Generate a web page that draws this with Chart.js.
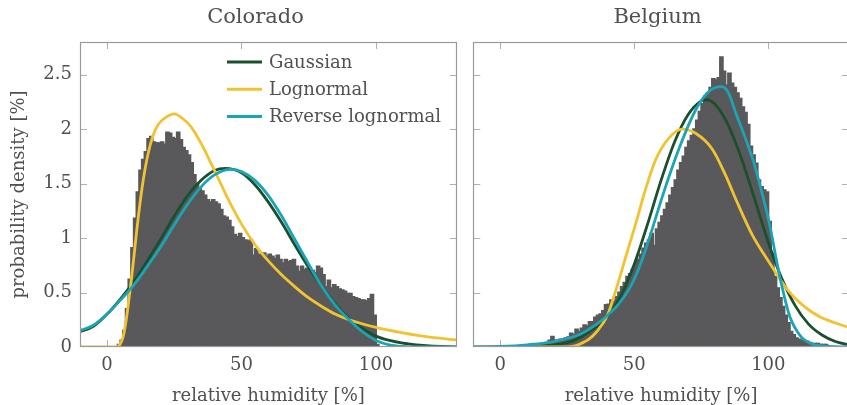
<!DOCTYPE html>
<html><head><meta charset="utf-8">
<script src="https://cdn.jsdelivr.net/npm/chart.js@4/dist/chart.umd.min.js"></script>
<style>
html,body{margin:0;padding:0;background:#fff;overflow:hidden;width:847px;height:405px;}
canvas{position:absolute;top:0;}
#c1{left:0}
#c2{left:466px}
</style></head><body>
<canvas id="c1" width="466" height="405"></canvas>
<canvas id="c2" width="390" height="405"></canvas>
<script>
// ---------- data ----------
const panelTitles = ['Colorado', 'Belgium'];
const seriesNames = ['Gaussian', 'Lognormal', 'Reverse lognormal'];
const xTickValues = [0, 50, 100];
const xTickLabels = ['0', '50', '100'];
const yTickValues = [0, 0.5, 1, 1.5, 2, 2.5];
const yTickLabels = ['0', '0.5', '1', '1.5', '2', '2.5'];
const binWidth = 1;

// Colorado histogram, bins of 1 % starting at 4 %
const coloradoBinStart = 4;
const coloradoHist = [0.02,0.06,0.15,0.35,0.62,0.91,1.18,1.42,1.62,1.72,
 1.79,1.91,1.93,1.88,1.87,1.87,1.88,1.86,1.97,1.96,
 1.92,1.91,1.97,1.90,1.83,1.80,1.76,1.69,1.58,1.50,
 1.46,1.43,1.39,1.35,1.33,1.35,1.33,1.31,1.26,1.20,
 1.19,1.16,1.10,1.03,1.01,1.04,1.00,0.98,0.97,0.98,
 0.84,0.90,0.85,0.84,0.86,0.83,0.85,0.83,0.81,0.84,
 0.80,0.77,0.80,0.78,0.79,0.80,0.74,0.69,0.74,0.71,
 0.72,0.71,0.70,0.68,0.74,0.72,0.66,0.55,0.61,0.54,
 0.57,0.55,0.53,0.52,0.51,0.49,0.49,0.46,0.45,0.44,
 0.43,0.43,0.42,0.44,0.48,0.29,0.02];

// Belgium histogram, bins of 1 % starting at 10 %
const belgiumBinStart = 10;
const belgiumHist = [0.01,0.01,0.01,0.015,0.02,
 0.02,0.03,0.04,0.06,0.095,0.06,0.06,0.07,0.07,0.08,
 0.09,0.125,0.11,0.16,0.14,0.17,0.20,0.19,0.23,0.23,
 0.27,0.29,0.30,0.33,0.385,0.39,0.43,0.42,0.46,0.50,
 0.55,0.59,0.645,0.67,0.71,0.76,0.80,0.85,0.905,0.95,
 0.98,1.04,0.93,1.08,1.14,1.20,1.26,1.32,1.39,1.46,
 1.53,1.62,1.69,1.75,1.83,1.89,1.94,2.00,2.08,2.16,
 2.23,2.30,2.33,2.38,2.46,2.45,2.47,2.66,2.53,2.40,
 2.51,2.42,2.38,2.33,2.28,2.20,2.15,2.04,1.84,1.76,
 1.685,1.53,1.47,1.44,1.42,1.15,0.86,0.645,0.54,0.45,
 0.37,0.29,0.22,0.14,0.11,0.08,0.07,0.06,0.05,0.05,
 0.04,0.03,0.03,0.03,0.02,0.02,0.02];

// Colorado fitted curves
const coGaussX = [-10,-5,0,5,10,15,20,25,30,35,40,44,50,55,60,65,70,75,80,85,90,95,100,105,110,115,120,130];
const coGaussY = [0.14,0.19,0.30,0.44,0.60,0.79,0.99,1.20,1.39,1.53,1.62,1.64,1.60,1.49,1.33,1.14,0.93,0.73,0.55,0.39,0.26,0.17,0.10,0.06,0.035,0.02,0.01,0.0];
const coLogX = [-10,0,3.5,5,6,7,8,9,10,11,13,15,17,19,22,25,28,31,35,40,45,50,55,60,65,70,75,80,85,90,100,110,120,130];
const coLogY = [0,0,0,0.03,0.09,0.22,0.40,0.60,0.82,1.05,1.45,1.74,1.93,2.04,2.11,2.14,2.10,2.03,1.87,1.62,1.36,1.13,0.94,0.79,0.66,0.55,0.45,0.37,0.30,0.25,0.18,0.13,0.09,0.065];
const coRevX = [-10,-5,0,5,10,15,20,25,30,35,40,46,50,55,60,65,70,75,80,85,90,95,100,105,110,115,130];
const coRevY = [0.15,0.20,0.30,0.43,0.57,0.74,0.92,1.12,1.31,1.47,1.58,1.63,1.61,1.53,1.39,1.20,0.98,0.76,0.55,0.38,0.25,0.14,0.06,0.02,0.005,0.0,0.0];

// Belgium fitted curves
const beGaussX = [-10,0,10,20,25,30,35,40,45,50,55,60,65,70,75,77,80,85,90,95,100,105,110,115,120,125,130];
const beGaussY = [0,0,0.005,0.02,0.04,0.09,0.17,0.28,0.47,0.76,1.13,1.53,1.88,2.13,2.26,2.27,2.23,2.04,1.73,1.35,0.96,0.63,0.38,0.21,0.11,0.05,0.02];
const beLogX = [-10,25,28,30,33,36,40,43.5,47,51,54,58,63,68,73,79,84,88,94,100,107,113,119,125,130];
const beLogY = [0,0,0.01,0.03,0.07,0.14,0.29,0.55,0.84,1.17,1.43,1.72,1.92,2.0,1.96,1.82,1.58,1.35,1.03,0.79,0.53,0.38,0.28,0.22,0.18];
const beRevX = [-10,0,10,20,30,36,40,44,48.5,52,55,61,67,73,78,82.5,85,88,92,94.5,98,100.7,103,105.7,108,112,116,120,130];
const beRevY = [0,0.005,0.02,0.05,0.12,0.21,0.29,0.39,0.55,0.74,0.95,1.42,1.84,2.18,2.35,2.39,2.34,2.14,1.88,1.70,1.38,1.10,0.80,0.49,0.28,0.10,0.03,0.01,0];

// ---------- styling ----------
const FONT = 'DejaVu Serif';
const TXT = '#505050';
const FRAME = '#9a9a9a';
const BARC = '#59595b';
const COLORS = ['#1c4f2d', '#f1c330', '#1aa4b6'];

const toXY = (xs, ys) => xs.map((x, i) => ({x: x, y: ys[i]}));
const histXY = (start, vals) => vals.map((v, i) => ({x: start + i * binWidth + binWidth / 2, y: v}));

const framePlugin = {
  id: 'frameTicks',
  beforeDatasetsDraw(chart) {
    const {ctx, chartArea: a, scales: {x, y}} = chart;
    ctx.save();
    ctx.strokeStyle = '#b0b0b0';
    ctx.lineWidth = 1;
    const L = 7;
    ctx.beginPath();
    xTickValues.forEach(v => {
      const px = Math.round(x.getPixelForValue(v)) + 0.5;
      ctx.moveTo(px, a.bottom); ctx.lineTo(px, a.bottom - L);
      ctx.moveTo(px, a.top); ctx.lineTo(px, a.top + L);
    });
    yTickValues.forEach(v => {
      if (v === 0) return;
      const py = Math.round(y.getPixelForValue(v)) + 0.5;
      ctx.moveTo(a.left, py); ctx.lineTo(a.left + L, py);
      ctx.moveTo(a.right, py); ctx.lineTo(a.right - L, py);
    });
    ctx.stroke();
    ctx.restore();
  },
  afterDatasetsDraw(chart) {
    const {ctx, chartArea: a} = chart;
    ctx.save();
    ctx.strokeStyle = FRAME;
    ctx.lineWidth = 1.2;
    ctx.strokeRect(Math.round(a.left) + 0.5, Math.round(a.top) + 0.5, Math.round(a.right - a.left) - 1, Math.round(a.bottom - a.top) - 1);
    ctx.restore();
  },
  afterDraw(chart, args, opts) {
    const ctx = chart.ctx;
    ctx.save();
    ctx.fillStyle = TXT;
    ctx.font = '21px "' + FONT + '"';
    ctx.textAlign = 'center';
    ctx.textBaseline = 'middle';
    ctx.fillText(opts.title, opts.titleX, 18);
    if (opts.legend) {
      const lines = chart.data.datasets.filter(d => d.type === 'line');
      ctx.font = '18px "' + FONT + '"';
      ctx.textAlign = 'left';
      lines.forEach((d, i) => {
        const yy = 62 + i * 27.3;
        ctx.strokeStyle = d.borderColor;
        ctx.lineWidth = 3;
        ctx.beginPath();
        ctx.moveTo(227, yy); ctx.lineTo(262, yy);
        ctx.stroke();
        ctx.fillStyle = TXT;
        ctx.fillText(d.label, 269, yy + 1);
      });
    }
    ctx.restore();
  }
};

function makePanel(id, hist, curves, showY, padLeft, padRight, title, titleX, legend) {
  const datasets = [];
  curves.forEach((c, i) => {
    datasets.push({
      type: 'line', label: seriesNames[i], data: c,
      borderColor: COLORS[i], borderWidth: 2.8, pointRadius: 0, fill: false,
      cubicInterpolationMode: 'monotone', clip: 0, order: 3 - i
    });
  });
  datasets.push({
    type: 'bar', label: 'histogram', data: hist,
    backgroundColor: BARC, borderWidth: 0, barPercentage: 1, categoryPercentage: 1,
    inflateAmount: 1, grouped: false, order: 10
  });
  return new Chart(document.getElementById(id), {
    type: 'bar',
    data: {datasets},
    options: {
      responsive: false, animation: false, devicePixelRatio: 1,
      layout: {padding: {top: 42, left: padLeft, right: padRight, bottom: 0}},
      plugins: {
        legend: {display: false}, tooltip: {enabled: false},
        frameTicks: {title, titleX, legend}
      },
      scales: {
        x: {
          type: 'linear', min: -10, max: 130, offset: false,
          afterBuildTicks: s => { s.ticks = xTickValues.map(v => ({value: v})); },
          afterFit: s => { s.height = 58; },
          grid: {display: false, drawTicks: false}, border: {display: false},
          ticks: {padding: 8, color: TXT, font: {family: FONT, size: 18}, maxRotation: 0, autoSkip: false,
                  callback: (v, i) => xTickLabels[i]},
          title: {display: true, text: 'relative humidity [%]', color: TXT,
                  font: {family: FONT, size: 18}, padding: {top: 0, bottom: -2.5}}
        },
        y: {
          display: showY, min: 0, max: 2.8,
          afterBuildTicks: s => { s.ticks = yTickValues.map(v => ({value: v})); },
          afterFit: s => { s.width = showY ? 80 : 0; },
          grid: {display: false, drawTicks: false}, border: {display: false},
          ticks: {padding: 8, color: TXT, font: {family: FONT, size: 18}, autoSkip: false,
                  callback: (v, i) => yTickLabels[i]},
          title: {display: true, text: 'probability density [%]', color: TXT,
                  font: {family: FONT, size: 18}, padding: {top: 9, bottom: 0}}
        }
      }
    },
    plugins: [framePlugin]
  });
}

makePanel('c1', histXY(coloradoBinStart, coloradoHist),
  [toXY(coGaussX, coGaussY), toXY(coLogX, coLogY), toXY(coRevX, coRevY)],
  true, 0, 9.3, panelTitles[0], 255.5, true);
makePanel('c2', histXY(belgiumBinStart, belgiumHist),
  [toXY(beGaussX, beGaussY), toXY(beLogX, beLogY), toXY(beRevX, beRevY)],
  false, 7.3, 7.2, panelTitles[1], 191.5, false);
</script></body></html>
